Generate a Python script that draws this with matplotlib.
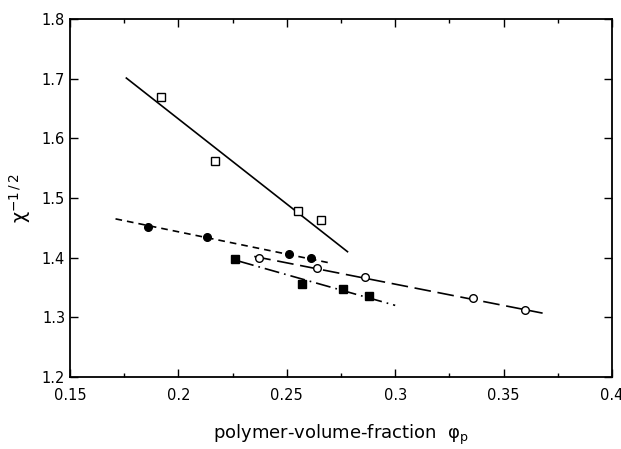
import matplotlib
matplotlib.use("Agg")
import matplotlib.pyplot as plt
from matplotlib.ticker import MultipleLocator

# data
open_sq_x = [0.192, 0.217, 0.255, 0.266]
open_sq_y = [1.669, 1.562, 1.478, 1.463]
open_sq_fit_x = [0.176, 0.278]
open_sq_fit_y = [1.701, 1.410]

fill_ci_x = [0.186, 0.213, 0.251, 0.261]
fill_ci_y = [1.452, 1.434, 1.406, 1.399]
fill_ci_fit_x = [0.171, 0.270]
fill_ci_fit_y = [1.465, 1.391]

open_ci_x = [0.237, 0.264, 0.286, 0.336, 0.360]
open_ci_y = [1.400, 1.383, 1.368, 1.332, 1.313]
open_ci_fit_x = [0.235, 0.368]
open_ci_fit_y = [1.402, 1.307]

fill_sq_x = [0.226, 0.257, 0.276, 0.288]
fill_sq_y = [1.397, 1.356, 1.347, 1.336]
fill_sq_fit_x = [0.228, 0.300]
fill_sq_fit_y = [1.394, 1.320]

fig = plt.figure(figsize=(6.21, 4.49), dpi=100)
ax = fig.add_axes([0.1127, 0.1604, 0.8728, 0.7973])

ax.plot(open_sq_fit_x, open_sq_fit_y, color="black", lw=1.2, ls="-")
ax.plot(fill_ci_fit_x, fill_ci_fit_y, color="black", lw=1.2, ls=(0, (4, 3)))
ax.plot(open_ci_fit_x, open_ci_fit_y, color="black", lw=1.2, ls=(0, (10, 4)))
ax.plot(fill_sq_fit_x, fill_sq_fit_y, color="black", lw=1.2, ls=(0, (9, 3, 1, 3)))

ax.plot(open_sq_x, open_sq_y, ls="none", marker="s", ms=6, mfc="white", mec="black", mew=1.0)
ax.plot(fill_ci_x, fill_ci_y, ls="none", marker="o", ms=5.5, mfc="black", mec="black")
ax.plot(open_ci_x, open_ci_y, ls="none", marker="o", ms=5.5, mfc="white", mec="black", mew=1.0)
ax.plot(fill_sq_x, fill_sq_y, ls="none", marker="s", ms=6, mfc="black", mec="black")

ax.set_xlim(0.15, 0.4)
ax.set_ylim(1.2, 1.8)
ax.xaxis.set_major_locator(MultipleLocator(0.05))
ax.xaxis.set_minor_locator(MultipleLocator(0.025))
ax.yaxis.set_major_locator(MultipleLocator(0.1))
ax.set_xticklabels([])
ax.xaxis.set_major_formatter(plt.FuncFormatter(lambda v, p: ("%g" % round(v, 3))))
ax.yaxis.set_major_formatter(plt.FuncFormatter(lambda v, p: ("%g" % round(v, 3))))
ax.tick_params(which="both", direction="in", top=True, right=True, labelsize=10.5)
ax.tick_params(which="major", length=6, width=1)
ax.tick_params(which="minor", length=3, width=1)
ax.tick_params(axis="x", pad=8)
for s in ax.spines.values():
    s.set_linewidth(1.3)

ax.set_xlabel(r"polymer-volume-fraction  $\mathregular{\varphi_p}$", fontsize=13, labelpad=14)
ax.set_ylabel(r"$\mathregular{\chi^{-1\,/\,2}}$", fontsize=14, labelpad=6)

fig.savefig("out.png", dpi=100)
